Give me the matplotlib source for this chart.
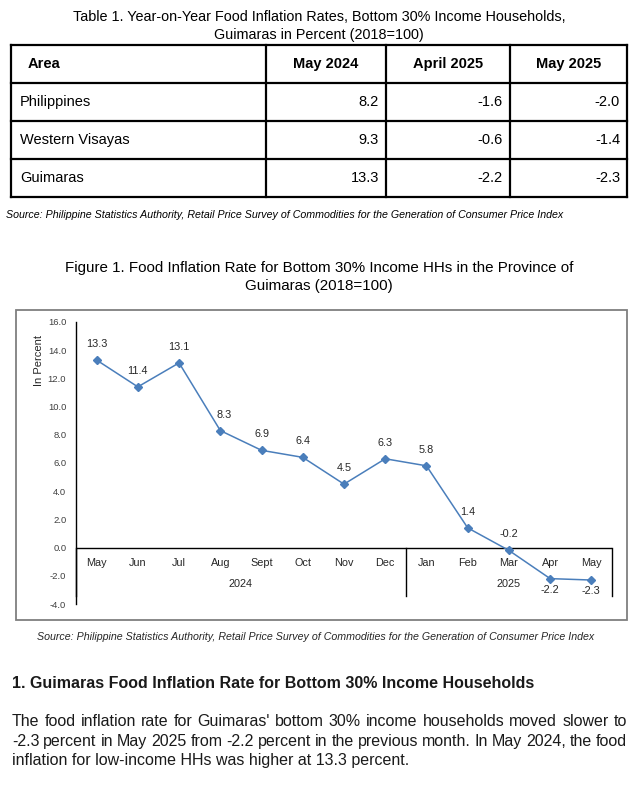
import matplotlib
matplotlib.use('Agg')
import matplotlib.pyplot as plt
from matplotlib.patches import Rectangle
from matplotlib.lines import Line2D

plt.rcParams['font.family'] = ['Liberation Sans', 'DejaVu Sans']

# table data
table_cols = ['Area', 'May 2024', 'April 2025', 'May 2025']
areas = ['Philippines', 'Western Visayas', 'Guimaras']
may_2024 = [8.2, 9.3, 13.3]
apr_2025 = [-1.6, -0.6, -2.2]
may_2025 = [-2.0, -1.4, -2.3]

# chart data
months = ['May', 'Jun', 'Jul', 'Aug', 'Sept', 'Oct', 'Nov', 'Dec',
          'Jan', 'Feb', 'Mar', 'Apr', 'May']
rates = [13.3, 11.4, 13.1, 8.3, 6.9, 6.4, 4.5, 6.3, 5.8, 1.4, -0.2, -2.2, -2.3]
years = ['2024', '2025']

W, H = 639, 791
fig = plt.figure(figsize=(W / 100, H / 100), dpi=100)


def fx(x):
    return x / W


def fy(y):
    return 1 - y / H


def ftext(x, y, s, **kw):
    return fig.text(fx(x), fy(y), s, **kw)


################################################################################
# Table
ftext(319, 17, 'Table 1. Year-on-Year Food Inflation Rates, Bottom 30% Income Households,',
      ha='center', va='center', fontsize=10.4)
ftext(319, 35, 'Guimaras in Percent (2018=100)', ha='center', va='center', fontsize=10.4)

col_x = [11, 266, 386, 510, 627]
row_y = [45, 83, 121, 159, 197]
for x in col_x:
    fig.add_artist(Line2D([fx(x), fx(x)], [fy(row_y[0]), fy(row_y[-1])], color='k', lw=1.6))
for y in row_y:
    fig.add_artist(Line2D([fx(col_x[0]), fx(col_x[-1])], [fy(y), fy(y)], color='k', lw=1.6))

ymid = (row_y[0] + row_y[1]) / 2
ftext(28, ymid, table_cols[0], ha='left', va='center', fontsize=10.5, fontweight='bold')
for i in range(1, 4):
    ftext((col_x[i] + col_x[i + 1]) / 2, ymid, table_cols[i], ha='center', va='center',
          fontsize=10.5, fontweight='bold')

for r in range(3):
    ymid = (row_y[r + 1] + row_y[r + 2]) / 2
    ftext(20, ymid, areas[r], ha='left', va='center', fontsize=10.5)
    for i, vals in enumerate([may_2024, apr_2025, may_2025]):
        ftext(col_x[i + 2] - 7, ymid, '%.1f' % vals[r], ha='right', va='center', fontsize=10.5)

ftext(6, 215, 'Source: Philippine Statistics Authority, Retail Price Survey of Commodities for the Generation of Consumer Price Index',
      ha='left', va='center', fontsize=7.7, style='italic')

################################################################################
# Figure
ftext(319, 268, 'Figure 1. Food Inflation Rate for Bottom 30% Income HHs in the Province of',
      ha='center', va='center', fontsize=10.9)
ftext(319, 286, 'Guimaras (2018=100)', ha='center', va='center', fontsize=10.9)

fig.add_artist(Rectangle((fx(16), fy(620)), fx(627 - 16), (620 - 310) / H,
                         fill=False, edgecolor='#7f7f7f', lw=1.3))

ax = fig.add_axes([fx(76), fy(604), fx(612 - 76), (604 - 322) / H])
ax.set_xlim(-0.5, 12.5)
ax.set_ylim(-4, 16)
for s in ['top', 'right', 'bottom']:
    ax.spines[s].set_visible(False)
ax.spines['left'].set_linewidth(1.0)
ax.set_yticks(range(-4, 17, 2))
ax.set_yticklabels(['%.1f' % v for v in range(-4, 17, 2)], fontsize=6.8, color='#404040')
ax.tick_params(axis='y', length=0, pad=7)
ax.set_xticks([])
ax.set_ylabel('In Percent', fontsize=8, color='#262626')
ax.yaxis.set_label_coords(-0.06, 0.865)
ax.patch.set_alpha(0)

ax.axhline(0, color='k', lw=1.0)
xs = list(range(len(months)))
ax.plot(xs, rates, color='#4a7ebb', lw=1.1, marker='D', markersize=4.3,
        markerfacecolor='#4a7ebb', markeredgecolor='#4a7ebb')

for x, v in zip(xs, rates):
    dx, dy, va = 0, 11, 'bottom'
    if v < -1:
        dy, va = -6, 'top'
    if x == 3:
        dx = 4
    ax.annotate('%.1f' % v, (x, v), xytext=(dx, dy), textcoords='offset pixels',
                ha='center', va=va, fontsize=7.8, color='#262626')

for x, m in zip(xs, months):
    ax.text(x, -1.1, m, ha='center', va='center', fontsize=7.8, color='#262626')

for xv in [-0.5, 7.5, 12.5]:
    ax.plot([xv, xv], [0, -3.45], color='k', lw=1.0, clip_on=False)
ax.text(3.5, -2.6, years[0], ha='center', va='center', fontsize=7.8, color='#262626')
ax.text(10, -2.6, years[1], ha='center', va='center', fontsize=7.8, color='#262626')

ftext(316, 637, 'Source: Philippine Statistics Authority, Retail Price Survey of Commodities for the Generation of Consumer Price Index',
      ha='center', va='center', fontsize=7.7, style='italic', color='#262626')

################################################################################
# Text section
ftext(12, 683, '1. Guimaras Food Inflation Rate for Bottom 30% Income Households',
      ha='left', va='center', fontsize=11.5, fontweight='bold', color='#1a1a1a')

para = ["The food inflation rate for Guimaras' bottom 30% income households moved slower to",
        "-2.3 percent in May 2025 from -2.2 percent in the previous month. In May 2024, the food",
        "inflation for low-income HHs was higher at 13.3 percent."]
line_y = [726.5, 746, 765.5]
left, right = 12, 627
renderer = fig.canvas.get_renderer()
for k, (line, y) in enumerate(zip(para, line_y)):
    words = line.split(' ')
    if k == len(para) - 1:
        ftext(left, y, line, ha='left', va='baseline', fontsize=11.5, color='#1a1a1a')
        continue
    arts = [ftext(left, y, w, ha='left', va='baseline', fontsize=11.5, color='#1a1a1a')
            for w in words]
    widths = [a.get_window_extent(renderer).width for a in arts]
    gap = (right - left - sum(widths)) / (len(words) - 1)
    x = left
    for a, w in zip(arts, widths):
        a.set_x(fx(x))
        x += w + gap

fig.savefig('out.png', dpi=100)
